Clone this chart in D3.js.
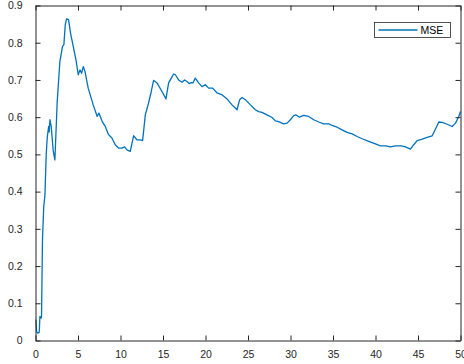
<!DOCTYPE html>
<html>
<head>
<meta charset="utf-8">
<script src="https://cdn.jsdelivr.net/npm/d3@7"></script>
<style>
  body { margin: 0; background: #fff; }
  svg { display: block; font-family: "Liberation Sans", Arial, sans-serif; }
  .tick text { fill: #262626; font-size: 10.5px; }
</style>
</head>
<body>
<svg id="chart" width="464" height="364"></svg>
<script>
// data
var xVals = [0.05, 0.12, 0.26, 0.44, 0.52, 0.67, 0.71, 0.82, 0.97, 1.11, 1.26, 1.38, 1.46, 1.55, 1.61, 1.70,
  1.85, 2.08, 2.28, 2.55, 2.87, 3.18, 3.34, 3.50, 3.65, 3.89, 4.12, 4.44, 4.76, 5.03, 5.23, 5.42, 5.62,
  5.82, 6.20, 6.79, 7.26, 7.46, 7.85, 8.21, 8.59, 8.99, 9.38, 9.77, 10.17, 10.48, 10.76, 11.15, 11.54,
  11.94, 12.33, 12.60, 12.92, 13.30, 13.62, 13.89, 14.29, 14.88, 15.35, 15.66, 15.98, 16.25, 16.45,
  16.84, 17.24, 17.54, 17.82, 18.10, 18.33, 18.53, 18.80, 19.19, 19.59, 19.98, 20.37, 20.84, 21.36,
  21.94, 22.53, 23.12, 23.71, 24.02, 24.30, 24.69, 25.28, 25.86, 26.25, 26.65, 27.24, 27.83, 28.22,
  28.61, 29.20, 29.60, 29.99, 30.37, 30.66, 31.05, 31.55, 32.14, 32.73, 33.32, 33.91, 34.50, 34.97,
  35.48, 36.07, 36.66, 37.25, 37.84, 38.43, 39.20, 39.99, 40.58, 41.17, 41.76, 42.35, 43.02, 43.53,
  44.11, 44.50, 44.90, 45.49, 46.08, 46.67, 47.06, 47.45, 47.85, 48.43, 49.02, 49.41, 49.80, 50.0];
var mseVals = [0.056, 0.024, 0.02, 0.022, 0.065, 0.06, 0.065, 0.27, 0.36, 0.39, 0.5, 0.545, 0.56, 0.575, 0.56, 0.593,
  0.575, 0.51, 0.485, 0.64, 0.75, 0.79, 0.795, 0.848, 0.864, 0.862, 0.826, 0.79, 0.754, 0.714, 0.727, 0.718, 0.736,
  0.723, 0.678, 0.633, 0.602, 0.611, 0.588, 0.575, 0.553, 0.544, 0.526, 0.517, 0.517, 0.52, 0.512, 0.508, 0.55,
  0.539, 0.539, 0.537, 0.606, 0.638, 0.669, 0.699, 0.692, 0.669, 0.649, 0.692, 0.705, 0.716, 0.714,
  0.70, 0.694, 0.70, 0.696, 0.69, 0.693, 0.692, 0.705, 0.692, 0.682, 0.687, 0.678, 0.678, 0.665,
  0.66, 0.649, 0.633, 0.62, 0.647, 0.653, 0.647, 0.633, 0.62, 0.615, 0.613, 0.606, 0.599, 0.59,
  0.588, 0.582, 0.584, 0.593, 0.604, 0.606, 0.60, 0.605, 0.602, 0.593, 0.587, 0.582, 0.582, 0.577,
  0.573, 0.566, 0.559, 0.555, 0.548, 0.542, 0.535, 0.528, 0.523, 0.523, 0.52, 0.523, 0.523, 0.52,
  0.514, 0.526, 0.537, 0.541, 0.546, 0.55, 0.568, 0.587, 0.586, 0.581, 0.575, 0.584, 0.602, 0.615];
var xTicks = [0, 5, 10, 15, 20, 25, 30, 35, 40, 45, 50];
var yTicks = [0, 0.1, 0.2, 0.3, 0.4, 0.5, 0.6, 0.7, 0.8, 0.9];
var seriesName = "MSE";

var svg = d3.select("#chart");
var plotLeft = 35.5, plotRight = 460.5, plotTop = 5.5, plotBottom = 340.5;
var axisColor = "#262626";

var x = d3.scaleLinear().domain([0, 50]).range([plotLeft, plotRight]);
var y = d3.scaleLinear().domain([0, 0.9]).range([plotBottom, plotTop]);

// line
var line = d3.line()
  .x(function(d, i) { return x(xVals[i]); })
  .y(function(d) { return y(d); });

svg.append("path")
  .datum(mseVals)
  .attr("fill", "none")
  .attr("stroke", "#0072BD")
  .attr("stroke-width", 1.3)
  .attr("stroke-linejoin", "round")
  .attr("d", line);

// axes, ticks pointing inward, mirrored on top/right
function styleAxis(g) {
  g.select(".domain").attr("stroke", axisColor);
  g.selectAll(".tick line").attr("stroke", axisColor);
}
svg.append("g")
  .attr("transform", "translate(0," + plotBottom + ")")
  .call(d3.axisBottom(x).tickValues(xTicks).tickSizeInner(-5).tickSizeOuter(0).tickPadding(12))
  .call(styleAxis)
  .selectAll("text").attr("dy", "0.55em");
svg.append("g")
  .attr("transform", "translate(0," + plotTop + ")")
  .call(d3.axisTop(x).tickValues(xTicks).tickSizeInner(-5).tickSizeOuter(0).tickFormat(""))
  .call(styleAxis);
svg.append("g")
  .attr("transform", "translate(" + plotLeft + ",0)")
  .call(d3.axisLeft(y).tickValues(yTicks).tickSizeInner(-5).tickSizeOuter(0).tickPadding(13)
    .tickFormat(function(d) { return d === 0 ? "0" : d3.format(".1f")(d); }))
  .call(styleAxis);
svg.append("g")
  .attr("transform", "translate(" + plotRight + ",0)")
  .call(d3.axisRight(y).tickValues(yTicks).tickSizeInner(-5).tickSizeOuter(0).tickFormat(""))
  .call(styleAxis);

// legend
var legend = svg.append("g").attr("transform", "translate(374.5,22.5)");
legend.append("rect")
  .attr("width", 76).attr("height", 15)
  .attr("fill", "#fff").attr("stroke", axisColor).attr("stroke-width", 0.8);
legend.append("line")
  .attr("x1", 4).attr("x2", 43).attr("y1", 7.5).attr("y2", 7.5)
  .attr("stroke", "#0072BD").attr("stroke-width", 1.3);
legend.append("text")
  .attr("x", 46).attr("y", 11.5)
  .attr("font-size", "10.5px").attr("fill", "#000")
  .text(seriesName);
</script>
</body>
</html>
